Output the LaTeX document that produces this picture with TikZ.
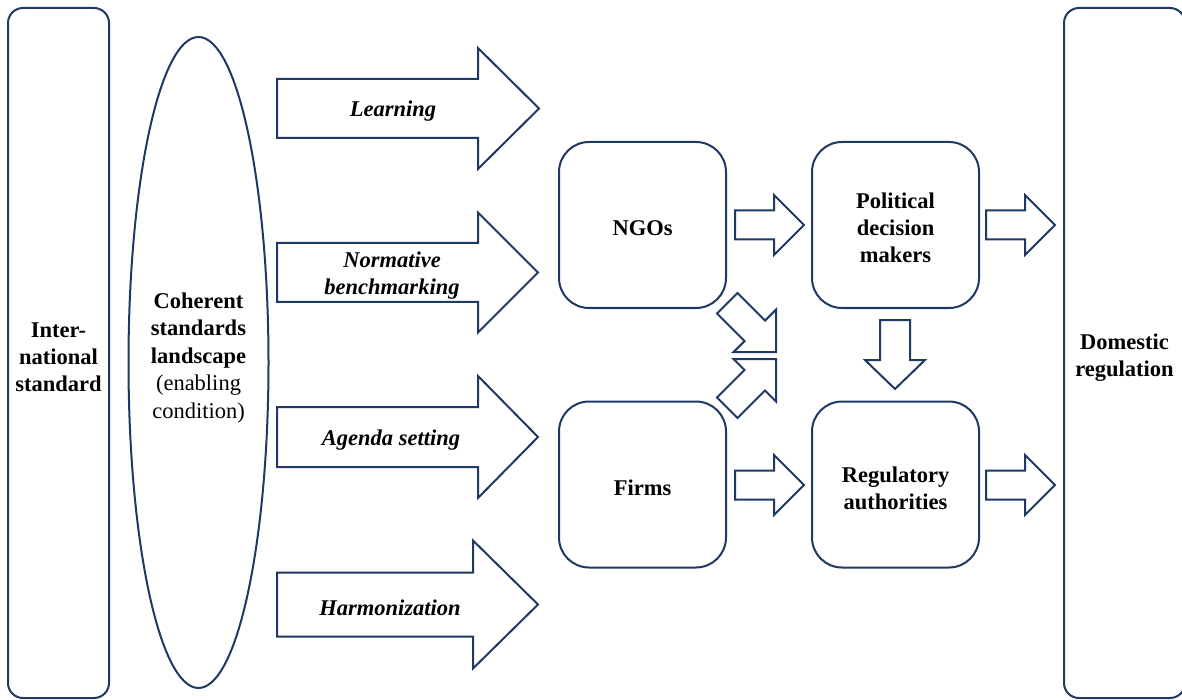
\documentclass[tikz,border=0pt]{standalone}
\usepackage{fontspec}
\setmainfont{LiberationSerif}[Extension=.ttf, UprightFont=*-Regular, BoldFont=*-Bold, ItalicFont=*-Italic, BoldItalicFont=*-BoldItalic]
\usetikzlibrary{shapes.geometric}
\definecolor{navy}{RGB}{31,56,100}
\tikzset{
  outl/.style={draw=navy, line width=2pt, fill=white, line join=miter},
  box/.style={outl, rounded corners=30pt, minimum width=167pt, minimum height=166pt,
              align=center, font=\fontsize{22.5}{27}\selectfont\bfseries, inner sep=0pt},
  tallbox/.style={outl, rounded corners=15pt, minimum width=101pt, minimum height=690pt,
              align=center, font=\fontsize{22.5}{27}\selectfont\bfseries, inner sep=0pt},
  lbl/.style={align=center, font=\fontsize{22.5}{27}\selectfont\bfseries\itshape, inner sep=0pt},
}
% tip x, tip y, angle, total length, head length, shaft half width, head half width
\newcommand{\blockarr}[7]{%
  \begin{scope}[shift={(#1,#2)}, rotate=#3]
    \draw[outl] (0,0) -- (-#5,#7) -- (-#5,#6) -- (-#4,#6) -- (-#4,-#6) -- (-#5,-#6) -- (-#5,-#7) -- cycle;
  \end{scope}}
\begin{document}
\begin{tikzpicture}[x=1pt, y=-1pt]
\useasboundingbox (0,0) rectangle (1182,700);
\begin{scope}
\clip (0,0) rectangle (1182,700);
% left and right tall boxes
\node[tallbox] (intl) at (58.5,353) {};
\node[tallbox, minimum width=121pt] (dom) at (1124.5,353) {};
\end{scope}
\node[align=center, font=\fontsize{22.5}{27}\selectfont\bfseries, inner sep=0pt] (intltext) at (58.5,357) {Inter-\\national\\standard};
\node[align=center, font=\fontsize{22.5}{27}\selectfont\bfseries, inner sep=0pt] (domtext) at (1124.5,358) {Domestic\\regulation};
% ellipse
\node[outl, ellipse, minimum width=140pt, minimum height=651pt, inner sep=0pt] (csl) at (198.5,362.5) {};
\node[align=center, font=\fontsize{22.5}{27.5}\selectfont, inner sep=0pt] (csltext) at (198.5,358)
  {\textbf{Coherent}\\\textbf{standards}\\\textbf{landscape}\\(enabling\\condition)};
% big arrows
\blockarr{539}{108.5}{0}{262}{61}{29.5}{60.5}
\node[lbl] (learn) at (393,111) {Learning};
\blockarr{538}{272.5}{0}{261}{60}{29.5}{60}
\node[lbl] (norm) at (392,276) {Normative\\benchmarking};
\blockarr{538}{437}{0}{261}{60}{30}{61}
\node[lbl] (agenda) at (391,440) {Agenda setting};
\blockarr{538}{604.5}{0}{261}{65}{32}{64}
\node[lbl] (harm) at (390,608) {Harmonization};
% actor boxes
\node[box] (ngo) at (642.5,225) {};
\node[box] (firms) at (642.5,484.5) {};
\node[box] (pol) at (895.5,225) {};
\node[box] (reg) at (895.5,484.5) {};
\node[lbl, font=\fontsize{22.5}{27}\selectfont\bfseries] at (642.5,228) {NGOs};
\node[lbl, font=\fontsize{22.5}{27}\selectfont\bfseries] at (642.5,488) {Firms};
\node[lbl, font=\fontsize{22.5}{27}\selectfont\bfseries] at (895.5,228) {Political\\decision\\makers};
\node[lbl, font=\fontsize{22.5}{27}\selectfont\bfseries] at (895.5,488) {Regulatory\\authorities};
% small arrows
\blockarr{804}{225}{0}{69}{30}{14.5}{30}
\blockarr{1055}{225}{0}{69}{30}{14.5}{30}
\blockarr{804}{485}{0}{69}{30}{14.5}{30}
\blockarr{1055}{485}{0}{69}{30}{14.5}{30}
\blockarr{895}{389}{-90}{69}{29}{15}{30}
% diagonal arrows
\blockarr{776}{352}{-45}{69}{30}{14.5}{30}
\blockarr{776}{359}{45}{69}{30}{14.5}{30}
\end{tikzpicture}
\end{document}
